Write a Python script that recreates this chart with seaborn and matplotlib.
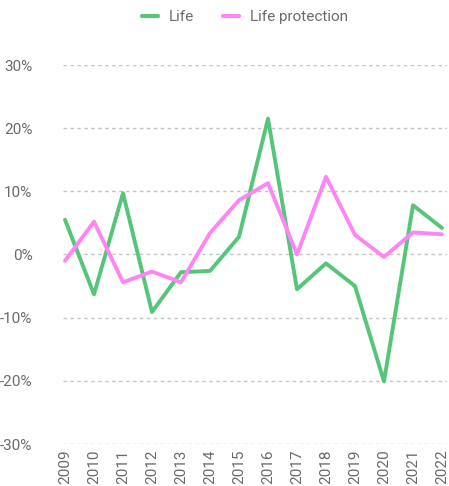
import matplotlib
matplotlib.use("Agg")
import matplotlib.pyplot as plt
from matplotlib.ticker import FuncFormatter, MultipleLocator
import pandas as pd
import seaborn as sns

years = list(range(2009, 2023))
life = [5.5, -6.3, 9.7, -9.1, -2.8, -2.6, 2.8, 21.5, -5.5, -1.4, -5.0, -20.1, 7.8, 4.2]
life_protection = [-1.0, 5.2, -4.4, -2.7, -4.4, 3.4, 8.6, 11.3, 0.0, 12.3, 3.1, -0.4, 3.5, 3.2]
series_names = ["Life", "Life protection"]
colors = {"Life": "#55C57A", "Life protection": "#FF85F5"}

df = pd.DataFrame({
    "year": years * 2,
    "growth": life + life_protection,
    "series": [series_names[0]] * len(years) + [series_names[1]] * len(years),
})

sns.set_theme(style="white")
plt.rcParams["font.family"] = ["Roboto", "DejaVu Sans"]
text_color = "#6b6b6b"

fig = plt.figure(figsize=(4.49, 4.86), dpi=100)
ax = fig.add_axes([63 / 449, 1 - 444 / 486, (447 - 63) / 449, (444 - 65) / 486])

sns.lineplot(data=df, x="year", y="growth", hue="series", palette=colors,
             linewidth=2.8, ax=ax, legend=False)

ax.set_ylim(-30, 30)
ax.set_xlim(2009 - 2 / 29, 2022 + 5 / 29)
ax.yaxis.set_major_locator(MultipleLocator(10))
ax.yaxis.set_major_formatter(FuncFormatter(lambda v, p: f"{v:.0f}%"))
ax.set_xticks(years)
ax.set_xticklabels([str(y) for y in years], rotation=90)
ax.set_xlabel("")
ax.set_ylabel("")

ax.grid(axis="y", color="#c4c4c4", linestyle=(0, (2.5, 2.5)), linewidth=1)
ax.grid(axis="x", visible=False)
ax.set_axisbelow(True)
for s in ax.spines.values():
    s.set_visible(False)
ax.tick_params(axis="y", length=0, pad=22, labelsize=11, labelcolor=text_color)
ax.tick_params(axis="x", length=0, pad=4, labelsize=11, labelcolor=text_color)

handles = [plt.Line2D([], [], color=colors[n], linewidth=3) for n in series_names]
fig.legend(handles, series_names, loc="center", bbox_to_anchor=(245 / 449, 1 - 17 / 486),
           ncol=2, frameon=False, fontsize=11, labelcolor=text_color,
           handlelength=1.05, handletextpad=0.72, columnspacing=1.9)

fig.savefig("out.png", dpi=100)
